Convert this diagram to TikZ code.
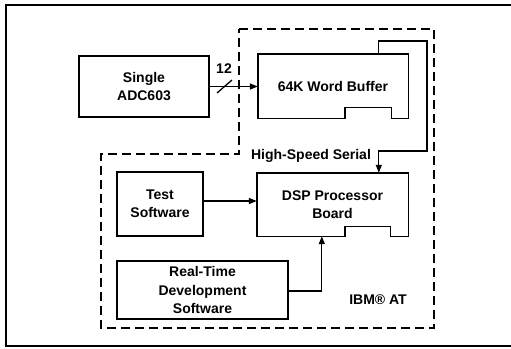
\documentclass[tikz,border=0pt]{standalone}
\usepackage{fontspec}
\setmainfont{Liberation Sans}
\usetikzlibrary{arrows.meta}
\begin{document}
\begin{tikzpicture}[x=1pt,y=-1pt,
  lbl/.style={font=\bfseries\fontsize{14}{18.3}\selectfont, align=center, inner sep=0pt},
  blk/.style={lbl, draw, line width=1.4pt},
  card/.style={lbl},
  outl/.style={line width=1.4pt, line join=miter},
  conn/.style={line width=1.3pt, -{Triangle[length=8pt,width=6pt]}},
  dsh/.style={line width=1.3pt, dash pattern=on 9pt off 5pt},
  frm/.style={line width=1.8pt}]
\useasboundingbox (0,0) rectangle (511,348);
% outer frame (right edge outside the picture)
\draw[frm] (520,5) -- (6,5) -- (6,346) -- (520,346);
% dashed IBM AT region
\draw[dsh] (239,29) -- (434,29) -- (434,328) -- (101,328) -- (101,154) -- (239,154) -- cycle;
% blocks
\node[blk, minimum width=130pt, minimum height=61pt] (adc) at (144,86.5) {Single\\ADC603};
\node[card, minimum width=150pt, minimum height=64pt] (buf) at (333,86) {64K Word Buffer};
\node[card, minimum width=151pt, minimum height=63pt] (dsp) at (332.5,204.5) {DSP Processor\\Board};
\node[blk, minimum width=86pt, minimum height=64pt] (test) at (160,204) {Test\\Software};
\node[blk, minimum width=171pt, minimum height=58pt] (rt) at (202.5,290) {Real-Time\\Development\\Software};
% card outlines with edge tab
\draw[outl] (buf.south west) -- (buf.north west) -- (buf.north east) -- (buf.south east)
  -- ([xshift=-17pt]buf.south east) -- ([xshift=-17pt,yshift=11pt]buf.south east)
  -- ([xshift=87pt,yshift=11pt]buf.south west) -- ([xshift=87pt]buf.south west) -- cycle;
\draw[outl] (dsp.south west) -- (dsp.north west) -- (dsp.north east) -- (dsp.south east)
  -- ([xshift=-18pt]dsp.south east) -- ([xshift=-18pt,yshift=10pt]dsp.south east)
  -- ([xshift=88pt,yshift=10pt]dsp.south west) -- ([xshift=88pt]dsp.south west) -- cycle;
% connectors
\coordinate (c1) at (427,41);
\coordinate (c2) at (427,151);
\draw[conn, line join=miter] ([xshift=121pt]buf.north west) -- ([xshift=121pt]buf.north west |- c1) -- (c1) -- (c2)
  -- ([xshift=122pt]dsp.north west |- c2) -- ([xshift=122pt]dsp.north west);
\draw[conn] (adc.east) -- (adc.east -| buf.west);
\coordinate (s1) at (217,93);
\coordinate (s2) at (232,80);
\draw[line width=1.3pt] (s1) -- (s2);
\node[lbl] (n12) at (224,69) {12};
\draw[conn] ([yshift=3pt]test.east) -- ([yshift=3pt]test.east -| dsp.west);
\draw[conn] ([yshift=-1pt]rt.east) -| ([xshift=65pt]dsp.south west);
% labels
\node[lbl] (hss) at (311,156) {High-Speed Serial};
\node[lbl] (ibm) at (378,300) {IBM® AT};
\end{tikzpicture}
\end{document}
